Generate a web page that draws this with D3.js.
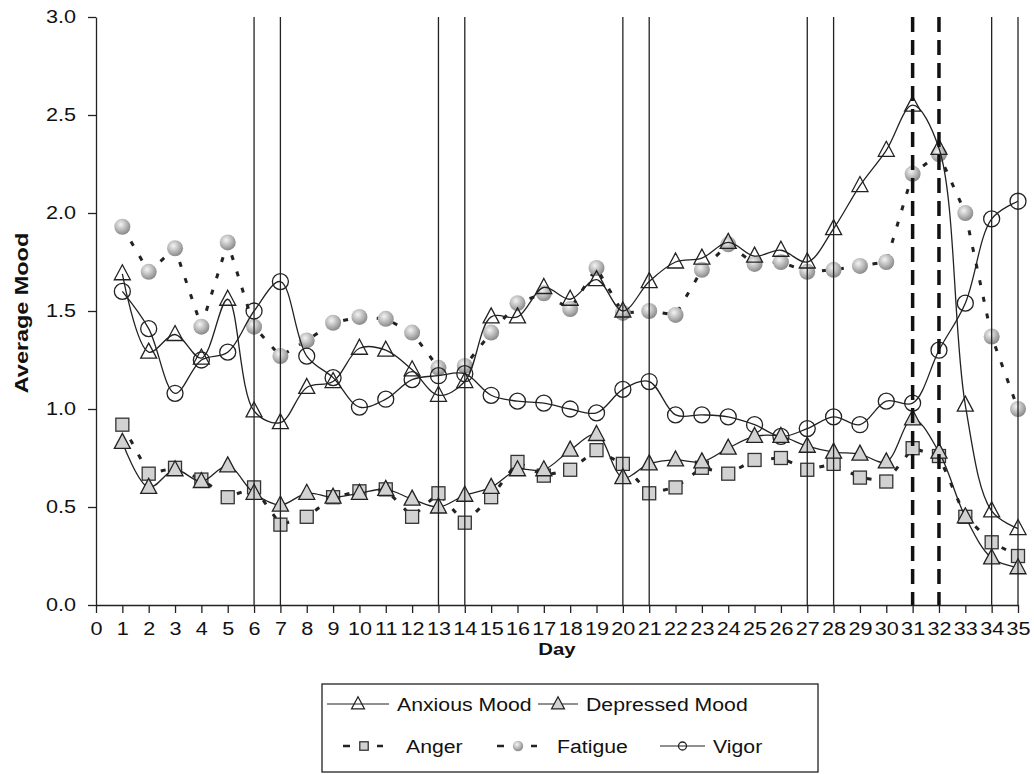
<!DOCTYPE html>
<html>
<head>
<meta charset="utf-8">
<script src="https://cdn.jsdelivr.net/npm/d3@7"></script>
<style>
  body { margin: 0; background: #fff; }
  text { font-family: "Liberation Sans", Arial, sans-serif; fill: #111; }
</style>
</head>
<body>
<div id="chart"></div>
<script>
let w = 1034;
let h = 774;

// data
const days = [1,2,3,4,5,6,7,8,9,10,11,12,13,14,15,16,17,18,19,20,21,22,23,24,25,26,27,28,29,30,31,32,33,34,35];
const anxious = [1.69,1.29,1.38,1.26,1.56,0.99,0.93,1.11,1.14,1.31,1.30,1.20,1.07,1.14,1.47,1.47,1.62,1.56,1.66,1.50,1.65,1.75,1.77,1.85,1.78,1.81,1.75,1.92,2.14,2.32,2.55,2.33,1.02,0.48,0.39];
const depressed = [0.83,0.60,0.69,0.63,0.71,0.57,0.51,0.57,0.55,0.57,0.59,0.54,0.50,0.56,0.60,0.69,0.69,0.79,0.87,0.65,0.72,0.74,0.73,0.80,0.86,0.86,0.81,0.78,0.77,0.73,0.95,0.78,0.45,0.24,0.19];
const anger = [0.92,0.67,0.70,0.64,0.55,0.60,0.41,0.45,0.55,0.58,0.59,0.45,0.57,0.42,0.55,0.73,0.66,0.69,0.79,0.72,0.57,0.60,0.70,0.67,0.74,0.75,0.69,0.72,0.65,0.63,0.80,0.76,0.45,0.32,0.25];
const fatigue = [1.93,1.70,1.82,1.42,1.85,1.42,1.27,1.35,1.44,1.47,1.46,1.39,1.21,1.22,1.39,1.54,1.59,1.51,1.72,1.49,1.50,1.48,1.71,1.84,1.74,1.75,1.70,1.71,1.73,1.75,2.20,2.30,2.00,1.37,1.00];
const vigor = [1.60,1.41,1.08,1.25,1.29,1.50,1.65,1.27,1.16,1.01,1.05,1.15,1.17,1.18,1.07,1.04,1.03,1.00,0.98,1.10,1.14,0.97,0.97,0.96,0.92,0.86,0.90,0.96,0.92,1.04,1.03,1.30,1.54,1.97,2.06];
const solidMarks = [6,7,13,14,20,21,27,28,34,35];
const dashedMarks = [31,32];
const xTicks = [0,1,2,3,4,5,6,7,8,9,10,11,12,13,14,15,16,17,18,19,20,21,22,23,24,25,26,27,28,29,30,31,32,33,34,35];
const yTicks = [0,0.5,1,1.5,2,2.5,3];

const svg = d3.select("#chart")
              .append("svg")
              .attr("width", w)
              .attr("height", h)

// the original's lettering is a bit wider than Liberation Sans
function stretch(sel, k) {
  sel.each(function() {
    let len = this.getComputedTextLength()
    d3.select(this).attr("textLength", len * k).attr("lengthAdjust", "spacingAndGlyphs")
  })
}

const defs = svg.append("defs")
const grad = defs.append("radialGradient")
                 .attr("id", "ball")
                 .attr("cx", "40%").attr("cy", "35%").attr("r", "65%")
grad.append("stop").attr("offset", "0%").attr("stop-color", "#f4f4f4")
grad.append("stop").attr("offset", "100%").attr("stop-color", "#8a8a8a")

const xScale = d3.scaleLinear().domain([0, 35]).range([96, 1018])
const yScale = d3.scaleLinear().domain([0, 3]).range([605, 17])

// axes
const xAxis = d3.axisBottom(xScale).tickValues(xTicks).tickFormat(d3.format("d")).tickSize(8).tickSizeOuter(0)
const gx = svg.append("g")
   .attr("transform", "translate(0," + yScale(0) + ")")
   .call(xAxis)
gx.selectAll("text").attr("y", 30).attr("dy", 0).style("font-size", "18px").call(stretch, 1.2)

const yAxis = d3.axisLeft(yScale).tickValues(yTicks).tickFormat(d3.format(".1f")).tickSize(8).tickSizeOuter(0)
const gy = svg.append("g")
   .attr("transform", "translate(" + xScale(0) + ",0)")
   .call(yAxis)
gy.selectAll("text").attr("x", -20).style("font-size", "18px").call(stretch, 1.2)

svg.selectAll(".domain, .tick line").attr("stroke", "#222").attr("stroke-width", 1.3)

svg.append("text")
   .attr("x", xScale(17.5)).attr("y", 655)
   .attr("text-anchor", "middle")
   .style("font-weight", "bold").style("font-size", "17px")
   .text("Day")
   .call(stretch, 1.2)

svg.append("text")
   .attr("transform", "translate(28," + (yScale(1.5) + 2) + ") rotate(-90)")
   .attr("text-anchor", "middle")
   .style("font-weight", "bold").style("font-size", "18px")
   .text("Average Mood")
   .call(stretch, 1.3)

// series
let smooth = d3.line().x((d, i) => xScale(days[i])).y((d) => yScale(d)).curve(d3.curveCatmullRom.alpha(0.5))
let straight = d3.line().x((d, i) => xScale(days[i])).y((d) => yScale(d))

let series = [
  { name: "Fatigue", values: fatigue, dashed: true, mark: "ball" },
  { name: "Anger", values: anger, dashed: true, mark: "square" },
  { name: "Vigor", values: vigor, dashed: false, mark: "circle" },
  { name: "Depressed Mood", values: depressed, dashed: false, mark: "filltri" },
  { name: "Anxious Mood", values: anxious, dashed: false, mark: "tri" }
]

function drawMark(g, kind, x, y, s) {
  s = s || 1
  if (kind === "ball") {
    g.append("circle").attr("cx", x).attr("cy", y).attr("r", 8 * s)
     .attr("fill", "url(#ball)")
  } else if (kind === "square") {
    g.append("rect").attr("x", x - 6.5 * s).attr("y", y - 6.5 * s).attr("width", 13 * s).attr("height", 13 * s)
     .attr("fill", "#d2d2d2").attr("stroke", "#333").attr("stroke-width", 1.3)
  } else if (kind === "circle") {
    g.append("circle").attr("cx", x).attr("cy", y).attr("r", 8 * s)
     .attr("fill", "none").attr("stroke", "#222").attr("stroke-width", 1.3)
  } else {
    g.append("path")
     .attr("d", "M" + x + "," + (y - 9 * s) + "L" + (x + 8 * s) + "," + (y + 6 * s) + "L" + (x - 8 * s) + "," + (y + 6 * s) + "Z")
     .attr("fill", kind === "filltri" ? "#d2d2d2" : "none")
     .attr("stroke", "#222").attr("stroke-width", 1.3)
  }
}

series.forEach((s) => {
  svg.append("path")
     .attr("d", s.dashed ? straight(s.values) : smooth(s.values))
     .attr("fill", "none")
     .attr("stroke", "#222")
     .attr("stroke-width", s.dashed ? 3 : 1.3)
     .attr("stroke-dasharray", s.dashed ? "5 12" : null)
  let g = svg.append("g")
  s.values.forEach((v, i) => drawMark(g, s.mark, xScale(days[i]), yScale(v)))
})

// event markers
svg.selectAll(".vline")
   .data(solidMarks)
   .enter()
   .append("line")
   .attr("x1", (d) => xScale(d)).attr("x2", (d) => xScale(d))
   .attr("y1", yScale(3)).attr("y2", yScale(0))
   .attr("stroke", "#222").attr("stroke-width", 1.3)

svg.selectAll(".dline")
   .data(dashedMarks)
   .enter()
   .append("line")
   .attr("x1", (d) => xScale(d)).attr("x2", (d) => xScale(d))
   .attr("y1", yScale(3)).attr("y2", yScale(0))
   .attr("stroke", "#111").attr("stroke-width", 3.5)
   .attr("stroke-dasharray", "15 8")

// legend
const lg = svg.append("g")
lg.append("rect").attr("x", 322).attr("y", 684).attr("width", 496).attr("height", 88)
  .attr("fill", "#fff").attr("stroke", "#222").attr("stroke-width", 1.3)

let legendItems = [
  { label: "Anxious Mood", mark: "tri", dashed: false, x: 327, tx: 397, y: 704 },
  { label: "Depressed Mood", mark: "filltri", dashed: false, x: 538, tx: 586, y: 704 },
  { label: "Anger", mark: "square", dashed: true, x: 343, tx: 406, y: 746 },
  { label: "Fatigue", mark: "ball", dashed: true, x: 497, tx: 557, y: 746 },
  { label: "Vigor", mark: "circle", dashed: false, x: 660, tx: 713, y: 746 }
]

legendItems.forEach((d) => {
  let g = lg.append("g")
  if (d.dashed) {
    g.append("line").attr("x1", d.x).attr("x2", d.x + 40).attr("y1", d.y).attr("y2", d.y)
     .attr("stroke", "#222").attr("stroke-width", 2.5).attr("stroke-dasharray", "7 27 7")
    drawMark(g, d.mark, d.x + 21, d.y, 0.65)
  } else {
    let len = d.tx - d.x - 8
    g.append("line").attr("x1", d.x).attr("x2", d.x + len).attr("y1", d.y).attr("y2", d.y)
     .attr("stroke", "#222").attr("stroke-width", 1.2)
    drawMark(g, d.mark, d.x + len / 2, d.y, d.mark === "circle" ? 0.5 : 0.8)
  }
  g.append("text").attr("x", d.tx).attr("y", d.y + 7)
   .style("font-size", "18px").text(d.label)
   .call(stretch, 1.18)
})
</script>
</body>
</html>
